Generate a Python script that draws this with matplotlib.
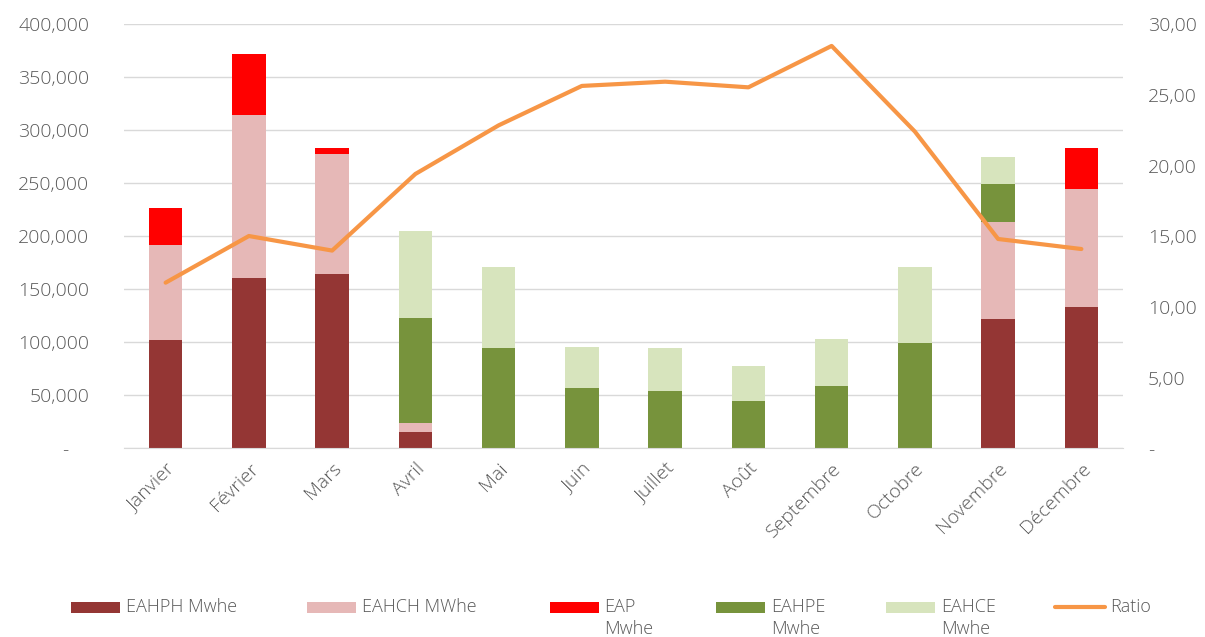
import matplotlib
matplotlib.use("Agg")
import matplotlib.pyplot as plt
from matplotlib.patches import Rectangle
from matplotlib.lines import Line2D
import numpy as np

months = ["Janvier", "Février", "Mars", "Avril", "Mai", "Juin", "Juillet",
          "Août", "Septembre", "Octobre", "Novembre", "Décembre"]
eahph = [102000, 161000, 164000, 15000, 0, 0, 0, 0, 0, 0, 121700, 133300]
eahch = [90000, 153000, 114000, 8500, 0, 0, 0, 0, 0, 0, 92200, 111400]
eap = [35000, 58000, 5000, 0, 0, 0, 0, 0, 0, 0, 0, 38700]
eahpe = [0, 0, 0, 99000, 94700, 56600, 54400, 44700, 59100, 99700, 35800, 0]
eahce = [0, 0, 0, 82700, 76700, 39000, 40300, 33000, 44100, 71700, 24900, 0]
ratio = [11.72, 15.02, 13.99, 19.41, 22.85, 25.64, 25.94, 25.54, 28.47, 22.41, 14.81, 14.10]
left_ticks = [0, 50000, 100000, 150000, 200000, 250000, 300000, 350000, 400000]
left_labels = ["-    ", "50,000", "100,000", "150,000", "200,000", "250,000",
               "300,000", "350,000", "400,000"]
right_ticks = [0, 5, 10, 15, 20, 25, 30]
right_labels = ["-", "5,00", "10,00", "15,00", "20,00", "25,00", "30,00"]

series = [
    ("EAHPH Mwhe", eahph, "#943634"),
    ("EAHCH MWhe", eahch, "#E6B8B7"),
    ("EAP\nMwhe", eap, "#FF0000"),
    ("EAHPE\nMwhe", eahpe, "#77933C"),
    ("EAHCE\nMwhe", eahce, "#D7E4BD"),
]
ratio_color = "#F79646"
txt_color = "#595959"
font = "Open Sans"
fw = "light"

W, H = 1205, 637
fig = plt.figure(figsize=(W / 100, H / 100), dpi=100)
ax = fig.add_axes([124 / W, 1 - 448.3 / H, (1123 - 124) / W, (448.3 - 24.3) / H])

x = np.arange(len(months))
bottom = np.zeros(len(months))
for name, vals, col in series:
    v = np.array(vals, dtype=float)
    ax.bar(x, v, width=0.4, bottom=bottom, color=col, zorder=2, linewidth=0)
    bottom += v

ax.set_xlim(-0.5, len(months) - 0.5)
ax.set_ylim(0, 400000)
ax.set_yticks(left_ticks)
ax.set_yticklabels(left_labels, fontfamily=font, fontsize=14, fontweight=fw, color=txt_color)
ax.grid(axis="y", color="#D9D9D9", linewidth=1, zorder=0)
ax.set_axisbelow(True)
for s in ["top", "right", "left"]:
    ax.spines[s].set_visible(False)
ax.spines["bottom"].set_color("#D9D9D9")
ax.set_xticks(x)
ax.set_xticklabels(months, rotation=45, ha="right", rotation_mode="anchor",
                   fontfamily=font, fontsize=14, fontweight=fw, color=txt_color)
ax.tick_params(axis="both", length=0)
ax.tick_params(axis="y", pad=25)
ax.tick_params(axis="x", pad=8)

ax2 = ax.twinx()
ax2.plot(x, ratio, color=ratio_color, linewidth=3, zorder=3, solid_capstyle="round")
ax2.set_ylim(0, 30)
ax2.set_yticks(right_ticks)
ax2.set_yticklabels(right_labels, fontfamily=font, fontsize=14, fontweight=fw, color=txt_color)
for s in ["top", "right", "left", "bottom"]:
    ax2.spines[s].set_visible(False)
ax2.tick_params(axis="y", which="both", length=0, pad=18, right=True, labelright=True)
for t in ax2.yaxis.get_major_ticks():
    t.set_pad(18)

# legend (manual, to mimic Excel layout)
leg_y = 606.5
patch_x = [70.7, 307, 549.6, 716, 886]
for (name, vals, col), px in zip(series, patch_x):
    fig.add_artist(Rectangle((px / W, 1 - 612.7 / H), 49 / W, 10.7 / H,
                             transform=fig.transFigure, color=col, linewidth=0))
    lines = name.split("\n")
    for i, ln in enumerate(lines):
        fig.text((px + 55) / W, 1 - (leg_y + i * 22.5) / H, ln, fontfamily=font,
                 fontsize=13, fontweight=fw, color=txt_color, va="center", ha="left")
fig.add_artist(Line2D([1055 / W, 1105 / W], [1 - leg_y / H, 1 - leg_y / H],
                      transform=fig.transFigure, color=ratio_color, linewidth=3,
                      solid_capstyle="round"))
fig.text(1110 / W, 1 - leg_y / H, "Ratio", fontfamily=font, fontsize=13, fontweight=fw,
         color=txt_color, va="center", ha="left")

fig.savefig("out.png", dpi=100, facecolor="white")
